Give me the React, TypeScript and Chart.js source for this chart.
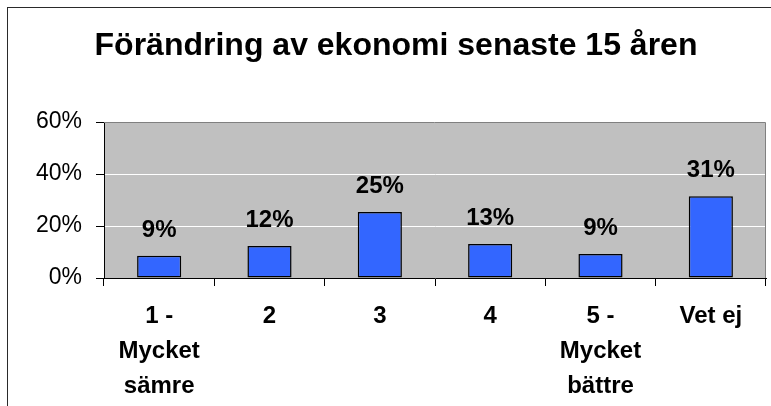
import { useEffect, useRef } from "react";
import { Chart, registerables } from "chart.js";

Chart.register(...registerables);

const TITLE = "Förändring av ekonomi senaste 15 åren";
const categories = [
  ["1 -", "Mycket", "sämre"],
  ["2"],
  ["3"],
  ["4"],
  ["5 -", "Mycket", "bättre"],
  ["Vet ej"],
];
const values = [8.6, 12.3, 25.4, 13.1, 9.2, 31.4];
const yMin = 0;
const yMax = 60;
const yStep = 20;

const FONT = '"Liberation Sans", Arial, sans-serif';

const decor = {
  id: "decor",
  beforeDraw(chart: any) {
    const { ctx, chartArea: a } = chart;
    ctx.save();
    ctx.fillStyle = "#ffffff";
    ctx.fillRect(0, 0, chart.width, chart.height);
    ctx.strokeStyle = "#2a2a2a";
    ctx.lineWidth = 1;
    ctx.strokeRect(7.5, 7.5, chart.width + 20, chart.height + 20);
    ctx.fillStyle = "#C0C0C0";
    ctx.fillRect(a.left, a.top, a.right - a.left, a.bottom - a.top);
    ctx.fillStyle = "#000";
    ctx.font = `bold 32px ${FONT}`;
    ctx.textAlign = "center";
    ctx.textBaseline = "alphabetic";
    ctx.fillText(TITLE, 396, 55);
    ctx.restore();
  },
  afterDatasetsDraw(chart: any) {
    const { ctx, chartArea: a } = chart;
    ctx.save();
    ctx.strokeStyle = "#808080";
    ctx.lineWidth = 1;
    ctx.beginPath();
    ctx.moveTo(a.left, a.top + 0.5);
    ctx.lineTo(a.right - 0.5, a.top + 0.5);
    ctx.lineTo(a.right - 0.5, a.bottom);
    ctx.stroke();
    const meta = chart.getDatasetMeta(0);
    ctx.fillStyle = "#000";
    ctx.font = `bold 24px ${FONT}`;
    ctx.textAlign = "center";
    ctx.textBaseline = "alphabetic";
    meta.data.forEach((bar: any, i: number) => {
      ctx.fillText(Math.round(values[i]) + "%", bar.x, bar.y - 19);
    });
    ctx.restore();
  },
};

export default function App() {
  const ref = useRef<HTMLCanvasElement | null>(null);
  useEffect(() => {
    if (!ref.current) return;
    const chart = new Chart(ref.current, {
      type: "bar",
      data: {
        labels: categories,
        datasets: [
          {
            data: values,
            backgroundColor: "#3366FF",
            borderColor: "#000000",
            borderWidth: 1.5,
            borderSkipped: false,
            barPercentage: 0.4,
            categoryPercentage: 1.0,
          },
        ],
      },
      options: {
        animation: false,
        responsive: false,
        devicePixelRatio: 1,
        events: [],
        layout: { padding: { top: 122, right: 5, left: 0, bottom: 0 } },
        plugins: {
          legend: { display: false },
          title: { display: false },
          tooltip: { enabled: false },
        },
        scales: {
          x: {
            afterFit: (s: any) => {
              s.height = 128;
            },
            grid: {
              offset: true,
              drawOnChartArea: false,
              tickLength: 8,
              tickColor: "#000",
              color: "#000",
            },
            border: { color: "#000", width: 1 },
            ticks: {
              color: "#000",
              padding: 13,
              maxRotation: 0,
              autoSkip: false,
              font: { family: FONT, size: 24, weight: "bold", lineHeight: 1.46 },
            },
          },
          y: {
            min: yMin,
            max: yMax,
            afterFit: (s: any) => {
              s.width = 104;
            },
            grid: {
              color: "#ffffff",
              tickColor: "#000",
              tickLength: 8,
            },
            border: { color: "#000", width: 1 },
            ticks: {
              stepSize: yStep,
              color: "#000",
              padding: 14,
              callback: (v: any) => v + "%",
              font: { family: FONT, size: 23 },
            },
          },
        },
      },
      plugins: [decor],
    });
    return () => chart.destroy();
  }, []);
  return (
    <canvas
      ref={ref}
      width={771}
      height={406}
      style={{ position: "fixed", left: 0, top: 0, width: "771px", height: "406px" }}
    />
  );
}
